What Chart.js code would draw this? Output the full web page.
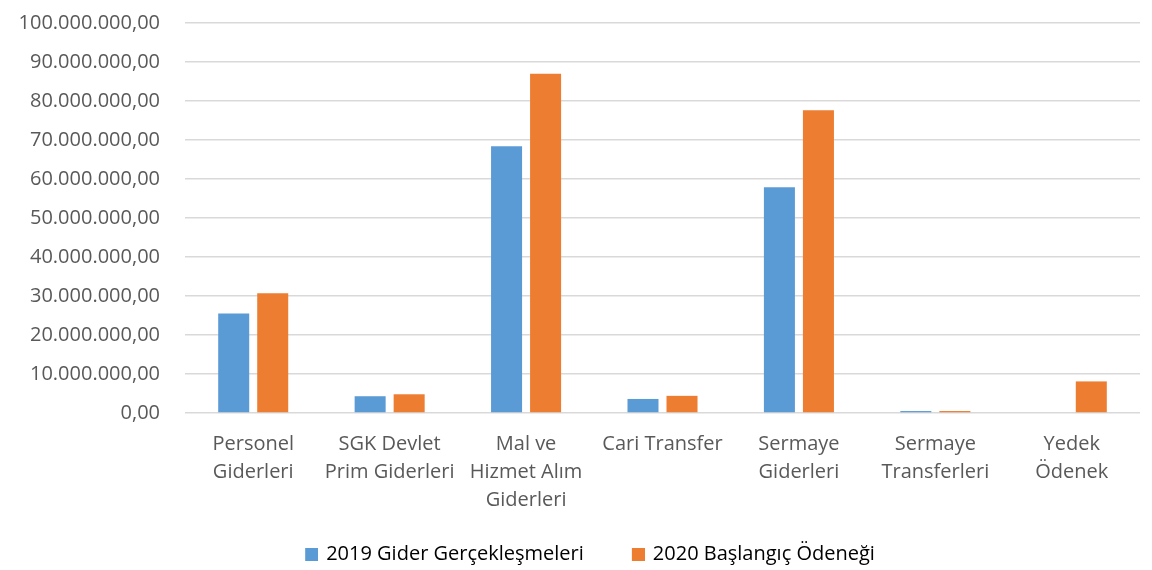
<!DOCTYPE html>
<html><head><meta charset="utf-8">
<script src="https://cdn.jsdelivr.net/npm/chart.js@4"></script>
<style>html,body{margin:0;padding:0;background:#fff;overflow:hidden}#c{position:absolute;left:0;top:-14px}</style>
</head><body><canvas id="c" width="1152" height="588"></canvas>
<script>
const categories = [["Personel","Giderleri"],["SGK Devlet","Prim Giderleri"],["Mal ve","Hizmet Alım","Giderleri"],["Cari Transfer"],["Sermaye","Giderleri"],["Sermaye","Transferleri"],["Yedek","Ödenek"]];
const series2019 = [25500000, 4300000, 68400000, 3600000, 57900000, 500000, 0];
const series2020 = [30700000, 4800000, 87000000, 4400000, 77600000, 500000, 8100000];
const seriesNames = ["2019 Gider Gerçekleşmeleri","2020 Başlangıç Ödeneği"];
const yMax = 100000000, yStep = 10000000;

function fmtTR(v){
  const s = Math.round(v).toString().replace(/\B(?=(\d{3})+(?!\d))/g,".");
  return s + ",00";
}
// legend swatch: a 13px square at the right end of a wider transparent strip (gives item spacing)
function swatch(color){
  const c = document.createElement('canvas');
  c.width = 55; c.height = 13;
  const g = c.getContext('2d');
  g.fillStyle = color; g.fillRect(42, 0, 13, 13);
  return c;
}
const FONT = "'Open Sans', sans-serif";
new Chart(document.getElementById('c'), {
  type:'bar',
  data:{labels:categories, datasets:[
    {label:seriesNames[0], data:series2019, backgroundColor:'#5B9BD5', categoryPercentage:0.572, barPercentage:0.795},
    {label:seriesNames[1], data:series2020, backgroundColor:'#ED7D31', categoryPercentage:0.572, barPercentage:0.795}
  ]},
  options:{
    responsive:false, maintainAspectRatio:false, animation:false, devicePixelRatio:1,
    layout:{padding:{left:0,right:12,top:0,bottom:0}},
    plugins:{
      legend:{position:'bottom', labels:{
        usePointStyle:true, pointStyleWidth:51, boxHeight:13, padding:8, color:'#000', font:{family:FONT,size:20},
        generateLabels:(chart)=>Chart.defaults.plugins.legend.labels.generateLabels(chart).map(it=>{it.pointStyle=swatch(it.fillStyle);return it;})
      }},
      tooltip:{enabled:false}
    },
    scales:{
      x:{grid:{display:false, drawTicks:false}, border:{display:false},
         afterFit:(s)=>{s.height+=5;},
         ticks:{color:'#595959', font:{family:FONT,size:20,lineHeight:1.4}, maxRotation:0, autoSkip:false, padding:17}},
      y:{min:0,max:yMax, grid:{color:'#d9d9d9', lineWidth:1.5, drawTicks:false}, border:{display:false},
         afterFit:(s)=>{s.width=185;},
         ticks:{stepSize:yStep, color:'#595959', padding:25, font:{family:FONT,size:20}, callback:(v)=>fmtTR(v)}}
    }
  }
});
</script></body></html>
